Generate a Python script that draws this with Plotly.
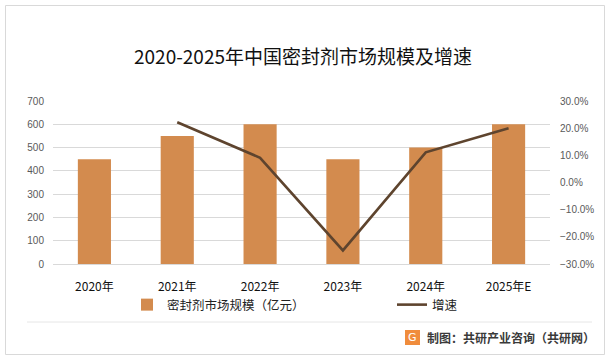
import plotly.graph_objects as go

years = ["2020年", "2021年", "2022年", "2023年", "2024年", "2025年E"]
market_size = [450, 550, 600, 450, 500, 600]
growth_years = ["2021年", "2022年", "2023年", "2024年", "2025年E"]
growth_pct = [22.2, 9.1, -25.0, 11.1, 20.0]

W, H = 610, 359
L, R, T, B = 53, 60, 101, 95
PW, PH = W - L - R, H - T - B


def px_x(x):
    return (x - L) / PW


def px_y(y):
    return (H - B - y) / PH


BAR = "#D38B4E"
LINE = "#5E442E"
FONT = "Noto Sans CJK SC, Liberation Sans, sans-serif"

fig = go.Figure()
fig.add_trace(go.Bar(
    x=years, y=market_size, name="密封剂市场规模（亿元）",
    marker=dict(color=BAR, line=dict(width=0)), yaxis="y", legend="legend",
))
fig.add_trace(go.Scatter(
    x=growth_years, y=growth_pct, name="增速", mode="lines",
    line=dict(color=LINE, width=2.6), yaxis="y2", legend="legend2",
))

shapes = [
    dict(type="rect", xref="paper", yref="paper",
         x0=px_x(5.5), x1=px_x(604.5), y0=px_y(354.5), y1=px_y(5.5),
         line=dict(color="#D9D9D9", width=1), fillcolor="rgba(0,0,0,0)", layer="below"),
    dict(type="line", xref="paper", yref="paper",
         x0=px_x(27), x1=px_x(592), y0=px_y(322), y1=px_y(322),
         line=dict(color="#E6E6E6", width=1)),
    dict(type="rect", xref="paper", yref="paper",
         x0=px_x(405), x1=px_x(420), y0=px_y(345), y1=px_y(330),
         line=dict(width=0), fillcolor="#F08C3C"),
]

annotations = [
    dict(text="G", x=px_x(412.5), y=px_y(337.5), xref="paper", yref="paper",
         showarrow=False, font=dict(family="DejaVu Sans", size=11, color="white"),
         xanchor="center", yanchor="middle"),
    dict(text="<b>制图：共研产业咨询（共研网）</b>", x=px_x(597), y=px_y(337),
         xref="paper", yref="paper", showarrow=False,
         font=dict(family=FONT, size=12, color="#3A3A3A"),
         xanchor="right", yanchor="middle"),
]

legend_font = dict(family=FONT, size=12.5, color="#222222")

fig.update_layout(
    width=W, height=H,
    margin=dict(l=L, r=R, t=T, b=B, autoexpand=False),
    paper_bgcolor="white", plot_bgcolor="white",
    font=dict(family=FONT),
    title=dict(text="2020-2025年中国密封剂市场规模及增速",
               x=303 / W, xanchor="center", y=1 - 57 / H, yanchor="middle",
               font=dict(family=FONT, size=19, color="#111111")),
    bargap=0.6,
    showlegend=True,
    legend=dict(orientation="h", x=px_x(127), y=px_y(305), xanchor="left", yanchor="middle",
                font=legend_font, itemwidth=30, bgcolor="rgba(0,0,0,0)"),
    legend2=dict(orientation="h", x=px_x(392), y=px_y(305), xanchor="left", yanchor="middle",
                 font=legend_font, itemwidth=30, bgcolor="rgba(0,0,0,0)"),
    xaxis=dict(type="category", categoryorder="array", categoryarray=years,
               showgrid=False, showline=False, ticks="",
               tickfont=dict(family=FONT, size=12, color="#111111"),
               ticklabelstandoff=14),
    yaxis=dict(range=[0, 700], dtick=100, showgrid=True, gridcolor="#D9D9D9", gridwidth=1,
               zeroline=True, zerolinecolor="#D9D9D9", zerolinewidth=1,
               showline=False, ticks="",
               tickfont=dict(family="Liberation Sans, Arial", size=10, color="#595959"),
               ticklabelstandoff=8),
    yaxis2=dict(range=[-30, 30], dtick=10, overlaying="y", side="right",
                showgrid=False, zeroline=False, showline=False, ticks="",
                ticksuffix="%", tickformat=".1f",
                tickfont=dict(family="Liberation Sans, Arial", size=10, color="#595959"),
                ticklabelstandoff=9),
    shapes=shapes,
    annotations=annotations,
)

fig.write_html("out.html", config={"displayModeBar": False},
               post_script="document.body.style.margin='0';")
